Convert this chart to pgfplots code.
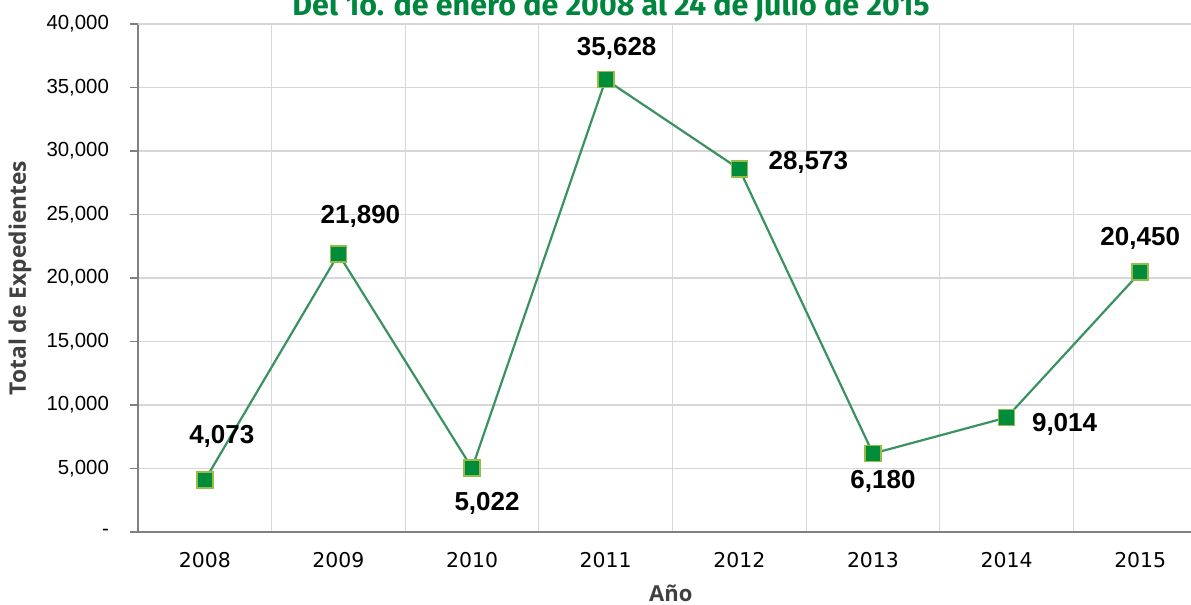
\documentclass[border=0pt]{standalone}
\usepackage{fontspec}
\setmainfont{Liberation Sans}
\newfontfamily\dejavu{DejaVu Sans}
\newfontfamily\opensans{Open Sans}
\newfontfamily\titlefont{Fira Sans}
\usepackage{pgfplots}
\pgfplotsset{compat=1.18}
\usepackage{pgfplotstable}

\definecolor{titlegreen}{RGB}{0,133,63}
\definecolor{linegreen}{RGB}{58,146,98}
\definecolor{markfill}{RGB}{0,140,58}
\definecolor{markedge}{RGB}{150,190,70}
\definecolor{axisgray}{RGB}{128,128,128}
\definecolor{gridgray}{RGB}{215,215,215}
\definecolor{labelgray}{RGB}{64,64,64}

% x = year index (0 = 2008), dx/dy = label offset in pt
\pgfplotstableread{
x y lab dx dy
0 4073 4,073 8.5 22
1 21890 21,890 11 19
2 5022 5,022 7.5 -17.5
3 35628 35,628 5.5 15.5
4 28573 28,573 34.5 3.5
5 6180 6,180 5 -14
6 9014 9,014 29 -3.5
7 20450 20,450 0 17
}\expedientes

\begin{document}
\begin{tikzpicture}
\begin{axis}[
  scale only axis,
  width=526.5pt, height=254pt,
  xmin=-0.5, xmax=7.38,
  ymin=0, ymax=40000,
  clip=false,
  scaled y ticks=false,
  axis x line*=bottom, axis y line*=left,
  axis line style={axisgray, line width=1pt},
  xtick={0,...,7},
  xticklabels={2008,2009,2010,2011,2012,2013,2014,2015},
  minor xtick={0.5,1.5,2.5,3.5,4.5,5.5,6.5},
  xminorgrids=true,
  ytick={0,5000,...,35000},
  yticklabels={-,5{,}000,10{,}000,15{,}000,20{,}000,25{,}000,30{,}000,35{,}000},
  extra y ticks={40000},
  extra y tick labels={40{,}000},
  extra y tick style={grid style={axisgray, line width=1pt}},
  ymajorgrids=true,
  major grid style={gridgray, line width=0.6pt},
  minor grid style={gridgray, line width=0.6pt},
  tick align=outside,
  major tick length=4pt,
  minor tick length=0pt,
  xtick style={draw=none},
  ytick style={axisgray, line width=0.8pt},
  yticklabel style={font=\fontsize{10.2}{12}\selectfont, text=black, xshift=-7pt},
  xticklabel style={font=\dejavu\fontsize{10.2}{12}\selectfont, text=black, anchor=center, yshift=-10pt},
  ylabel={Total de Expedientes},
  ylabel style={at={(axis description cs:-0.112,0.5)}, anchor=center,
    font=\opensans\bfseries\fontsize{11.4}{13}\selectfont, text=labelgray},
  xlabel={Año},
  xlabel style={at={(axis description cs:0.506,-0.120)}, anchor=center,
    font=\opensans\bfseries\fontsize{11}{13}\selectfont, text=labelgray},
]
\addplot[
  color=linegreen, line width=1.1pt,
  mark=square*, mark size=4pt,
  mark options={fill=markfill, draw=markedge, line width=0.8pt},
  nodes near coords,
  point meta=explicit symbolic,
  visualization depends on={\thisrow{dx}\as\dx},
  visualization depends on={\thisrow{dy}\as\dy},
  every node near coord/.append style={anchor=center, xshift=\dx pt, yshift=\dy pt,
    font=\bfseries\fontsize{13}{15}\selectfont, text=black},
] table[x=x, y=y, meta=lab] {\expedientes};
\node[anchor=base, yshift=4pt, text=titlegreen,
  font=\titlefont\bfseries\fontsize{15.2}{17}\selectfont]
  at (axis cs:3.04,40000) {Del 1o. de enero de 2008 al 24 de julio de 2015};
\coordinate (sw) at (rel axis cs:0,0);
\coordinate (ne) at (rel axis cs:1,1);
\end{axis}
\pgfresetboundingbox
\path[use as bounding box] ([shift={(-69pt,-36.5pt)}]sw) rectangle ([yshift=12pt]ne);
\end{tikzpicture}
\end{document}
